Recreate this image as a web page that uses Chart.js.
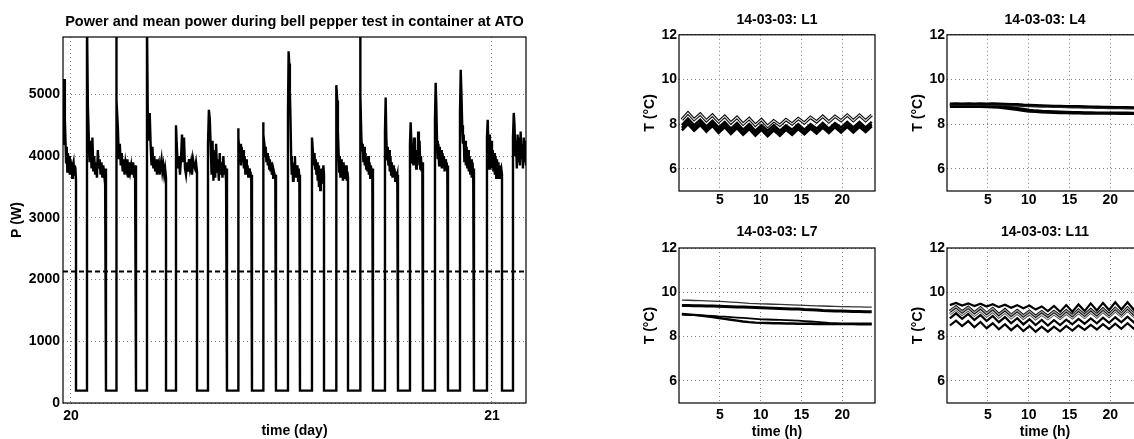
<!DOCTYPE html>
<html>
<head>
<meta charset="utf-8">
<script src="https://cdn.jsdelivr.net/npm/chart.js@4.4.0/dist/chart.umd.min.js"></script>
<style>
  html, body { margin: 0; padding: 0; background: #fff; width: 1134px; height: 439px; overflow: hidden; }
  canvas { position: absolute; }
</style>
</head>
<body>
<canvas id="power" width="540" height="439" style="left:0;top:0"></canvas>
<canvas id="l1" width="247" height="215" style="left:630px;top:0"></canvas>
<canvas id="l4" width="247" height="215" style="left:898px;top:0"></canvas>
<canvas id="l7" width="247" height="229" style="left:630px;top:210px"></canvas>
<canvas id="l11" width="247" height="229" style="left:898px;top:210px"></canvas>
<script>
/* Power chart data */
const DAY_MIN = 19.981;
const DAY_MAX = 21.0808;
const DAY_TICKS = [20, 21];
const POWER_MAX = 5930;
const POWER_TICKS = [0, 1000, 2000, 3000, 4000, 5000];
const MEAN_POWER = 2130;
const OFF_POWER = 200;

// compressor on-periods (day) and the power read during each of them
const ON_START = [19.981, 20.038, 20.1069, 20.1805, 20.2494, 20.3254, 20.3967, 20.4561, 20.5154,
  20.5724, 20.6295, 20.6865, 20.7458, 20.8052, 20.8646, 20.924, 20.9881, 21.0499];
const ON_END = [20.0119, 20.0831, 20.1544, 20.2257, 20.2993, 20.3705, 20.4299, 20.4869, 20.5439,
  20.601, 20.658, 20.7173, 20.7767, 20.8361, 20.8955, 20.9572, 21.0238, 21.0808];
const ON_POWER = [
  [4200, 4650, 5250, 4600, 4250, 3900, 4150, 3750, 4050, 3800, 4000, 3700, 3950, 3850, 3900, 3650, 3850, 3900, 3700, 3850, 3800, 3600],
  [6200, 4800, 4300, 3900, 4250, 3800, 4300, 3750, 4000, 3700, 3900, 3650, 4100, 3800, 3950, 3700, 3900, 3650, 3850, 3700, 3800, 3650],
  [6200, 4900, 4450, 3950, 4200, 3850, 4050, 3750, 3950, 3700, 3900, 3800, 3950, 3650, 3900, 3750, 3850, 3700, 3900, 3650, 3850, 3700],
  [6200, 4500, 4250, 4700, 4200, 3850, 4150, 3800, 4000, 3750, 3950, 3700, 3850, 3900, 3700, 3850, 3950, 3750, 3850, 3700, 3800, 3650],
  [4500, 4100, 3800, 4000, 3700, 3950, 4350, 3900, 4300, 3800, 3700, 3900, 3750, 3950, 3800, 3900, 3700, 3950, 3850, 3800, 3900, 3750],
  [4200, 4750, 4600, 4150, 3700, 4250, 3600, 4100, 3650, 4200, 3750, 3950, 3600, 4050, 3700, 3900, 3650, 4000, 3700, 3850, 3600, 3800],
  [4450, 4300, 4050, 4200, 3850, 4150, 3900, 4100, 3800, 4000, 3700, 3950, 3700, 3850, 3650, 3800, 3650, 3750, 3600, 3700],
  [4550, 4350, 4200, 4000, 4150, 3900, 4050, 3850, 4000, 3800, 3950, 3750, 3900, 3700, 3800, 3650, 3750, 3700, 3650, 3700],
  [4700, 5700, 5500, 5050, 4600, 4000, 3700, 3900, 3600, 3850, 3700, 4000, 3650, 3800, 3700, 3850, 3600, 3800, 3650, 3700],
  [4300, 4150, 4000, 3850, 4050, 3800, 3950, 3700, 3900, 3600, 3850, 3500, 3800, 3450, 3750, 3550, 3800, 3600, 3850, 3700],
  [4700, 5150, 4900, 4400, 4100, 3750, 4000, 3650, 3950, 3700, 3850, 3600, 3900, 3650, 3800, 3700, 3850, 3600, 3750, 3650],
  [6200, 5000, 4300, 4100, 4200, 3900, 4150, 3850, 4050, 3800, 3950, 3750, 4000, 3700, 3900, 3650, 3850, 3700, 3800, 3650],
  [4400, 4950, 4300, 3950, 4150, 3850, 4100, 3750, 4000, 3700, 3900, 3650, 3850, 3700, 3800, 3600, 3750, 3650, 3700, 3600],
  [4200, 4550, 4250, 3900, 4100, 3850, 4300, 3900, 4050, 3800, 4100, 3850, 4400, 3900, 4250, 3800, 4000, 3750, 3900, 3750],
  [4600, 5190, 4800, 4250, 3950, 4200, 3850, 4150, 3900, 4100, 3800, 4050, 3850, 4000, 3750, 3950, 3800, 3900, 3750, 3850],
  [4700, 5400, 5000, 4500, 4200, 4350, 3900, 4250, 3850, 4150, 3800, 4100, 3750, 4000, 3700, 3950, 3650, 3900, 3700, 3800],
  [4300, 4590, 4200, 3800, 4350, 3900, 4250, 3800, 4100, 3750, 4050, 3700, 4000, 3650, 3950, 3700, 3900, 3650, 3850, 3750, 3800, 3700],
  [4300, 4700, 4500, 4000, 4250, 3800, 4350, 3900, 4300, 3850, 4400, 3950, 4200, 3800, 4300, 3900, 4250, 3850]
];

/* Temperature charts data */
const HOURS = [0.35, 1.1, 1.85, 2.6, 3.35, 4.1, 4.85, 5.6, 6.35, 7.1, 7.85, 8.6, 9.35, 10.1, 10.85, 11.6,
  12.35, 13.1, 13.85, 14.6, 15.35, 16.1, 16.85, 17.6, 18.35, 19.1, 19.85, 20.6, 21.35, 22.1, 22.85, 23.6];
const HOUR_TICKS = [5, 10, 15, 20];
const TEMP_TICKS = [6, 8, 10, 12];

const L1_A = [8.2,8.5, 8.2,8.45, 8.15,8.4, 8.1,8.35, 8.05,8.3, 8.0,8.25, 7.95,8.2, 7.9,8.15, 7.95,8.2, 8.0,8.25, 8.05,8.3, 8.1,8.35, 8.1,8.35, 8.15,8.4, 8.15,8.4, 8.15,8.4];
const L1_B = [7.95,8.25, 7.95,8.2, 7.9,8.15, 7.85,8.1, 7.8,8.05, 7.75,8.0, 7.7,7.95, 7.7,7.95, 7.7,7.95, 7.75,8.0, 7.75,8.0, 7.8,8.05, 7.8,8.05, 7.85,8.1, 7.85,8.1, 7.85,8.1];
const L1_C = [7.83,8.13, 7.82,8.08, 7.78,8.03, 7.73,7.98, 7.68,7.93, 7.63,7.88, 7.58,7.83, 7.57,7.82, 7.58,7.84, 7.62,7.88, 7.64,7.89, 7.68,7.93, 7.69,7.94, 7.72,7.97, 7.73,7.98, 7.74,7.99];
const L1_D = [7.72,8.0, 7.7,7.96, 7.66,7.92, 7.6,7.86, 7.56,7.82, 7.52,7.78, 7.48,7.74, 7.46,7.72, 7.48,7.74, 7.52,7.78, 7.54,7.8, 7.58,7.84, 7.6,7.86, 7.62,7.88, 7.62,7.88, 7.64,7.9];

const L4_E = [8.92,8.93,8.92,8.93,8.92,8.93,8.92,8.93,8.92,8.91,8.9,8.89,8.87,8.86,8.85,8.84,8.83,8.82,8.82,8.81,8.8,8.8,8.79,8.78,8.78,8.77,8.77,8.76,8.76,8.76,8.75,8.75];
const L4_F = [8.85,8.86,8.85,8.86,8.85,8.85,8.84,8.84,8.82,8.79,8.75,8.71,8.67,8.63,8.6,8.58,8.57,8.56,8.55,8.54,8.53,8.53,8.52,8.52,8.51,8.51,8.5,8.5,8.5,8.5,8.49,8.49];
const L4_G = [8.78,8.79,8.78,8.79,8.78,8.78,8.77,8.76,8.74,8.71,8.68,8.64,8.6,8.57,8.55,8.53,8.52,8.51,8.5,8.5,8.49,8.49,8.48,8.48,8.48,8.47,8.47,8.47,8.46,8.46,8.46,8.46];
const L4_H = [8.87,8.88,8.87,8.88,8.87,8.87,8.87,8.86,8.86,8.85,8.84,8.83,8.82,8.81,8.8,8.79,8.78,8.77,8.77,8.76,8.75,8.75,8.74,8.74,8.73,8.73,8.72,8.72,8.72,8.71,8.71,8.71];

const L7_I = [9.65,9.64,9.63,9.62,9.61,9.6,9.59,9.58,9.56,9.54,9.52,9.5,9.49,9.48,9.47,9.46,9.45,9.44,9.43,9.42,9.41,9.4,9.39,9.38,9.37,9.36,9.35,9.35,9.34,9.34,9.33,9.33];
const L7_J = [9.4,9.4,9.39,9.39,9.38,9.38,9.37,9.36,9.35,9.34,9.33,9.32,9.31,9.3,9.29,9.28,9.27,9.26,9.25,9.24,9.22,9.21,9.2,9.18,9.17,9.16,9.15,9.14,9.13,9.13,9.12,9.12];
const L7_K = [9.02,9.0,8.98,8.95,8.92,8.88,8.84,8.8,8.76,8.72,8.68,8.65,8.63,8.62,8.61,8.6,8.6,8.59,8.59,8.58,8.58,8.58,8.57,8.57,8.57,8.56,8.56,8.56,8.56,8.55,8.55,8.55];
const L7_L = [8.99,8.98,8.97,8.96,8.95,8.93,8.91,8.9,8.88,8.86,8.84,8.82,8.8,8.78,8.77,8.76,8.75,8.74,8.73,8.72,8.7,8.68,8.66,8.64,8.62,8.61,8.6,8.6,8.6,8.59,8.59,8.59];

const L11_M1 = [9.42,9.52, 9.4,9.5, 9.38,9.48, 9.36,9.46, 9.33,9.44, 9.3,9.42, 9.28,9.4, 9.22,9.36, 9.15,9.38, 9.12,9.42, 9.12,9.45, 9.15,9.5, 9.18,9.52, 9.2,9.55, 9.22,9.55, 9.22,9.55];
const L11_M2 = [9.15,9.35, 9.12,9.33, 9.08,9.3, 9.05,9.27, 9.0,9.22, 8.97,9.18, 8.94,9.15, 8.92,9.13, 8.92,9.14, 8.93,9.17, 8.95,9.2, 8.97,9.22, 8.99,9.25, 9.0,9.28, 9.02,9.3, 9.03,9.32];
const L11_M3 = [9.02,9.24, 9.0,9.2, 8.96,9.17, 8.92,9.13, 8.88,9.1, 8.84,9.06, 8.82,9.03, 8.8,9.0, 8.8,9.02, 8.82,9.05, 8.84,9.08, 8.86,9.1, 8.88,9.13, 8.9,9.16, 8.92,9.18, 8.93,9.2];
const L11_M4 = [8.82,9.05, 8.8,9.02, 8.75,8.98, 8.7,8.93, 8.65,8.88, 8.6,8.83, 8.55,8.78, 8.52,8.75, 8.5,8.74, 8.52,8.76, 8.55,8.8, 8.58,8.82, 8.6,8.85, 8.62,8.87, 8.64,8.9, 8.65,8.9];
const L11_M5 = [8.5,8.72, 8.47,8.7, 8.42,8.66, 8.38,8.6, 8.33,8.56, 8.29,8.52, 8.25,8.48, 8.22,8.45, 8.22,8.45, 8.24,8.48, 8.27,8.5, 8.3,8.53, 8.32,8.56, 8.34,8.58, 8.35,8.6, 8.36,8.6];

Chart.defaults.font.family = "'Liberation Sans', Arial, sans-serif";
Chart.defaults.font.size = 14;
Chart.defaults.font.weight = 'bold';
Chart.defaults.color = '#000';

// matlab style box around the axes
const frame = {
  id: 'frame',
  afterDatasetsDraw(chart) {
    const {ctx, chartArea: a} = chart;
    ctx.save();
    ctx.strokeStyle = '#000';
    ctx.lineWidth = 1.2;
    ctx.strokeRect(a.left, a.top, a.right - a.left, a.bottom - a.top);
    ctx.restore();
  }
};

const fixedTicks = list => scale => { scale.ticks = list.map(v => ({value: v})); };
const plainLabel = v => String(v);
const gridStyle = {drawTicks: false, color: '#808080', lineWidth: 1};
const borderStyle = {display: false, dash: [1, 3]};

/* Power */
const powerPoints = [];
ON_START.forEach((t0, i) => {
  const vals = ON_POWER[i];
  const t1 = ON_END[i];
  if (i > 0) powerPoints.push({x: t0, y: OFF_POWER});
  vals.forEach((v, k) => powerPoints.push({x: t0 + (t1 - t0) * k / (vals.length - 1), y: v}));
  if (i < ON_START.length - 1) powerPoints.push({x: t1, y: OFF_POWER});
});

new Chart(document.getElementById('power'), {
  type: 'line',
  data: {
    datasets: [{
      data: [{x: DAY_MIN, y: MEAN_POWER}, {x: DAY_MAX, y: MEAN_POWER}],
      borderColor: '#000', borderWidth: 2, borderDash: [5, 3], pointRadius: 0
    }, {
      data: powerPoints,
      borderColor: '#000', borderWidth: 2.4, pointRadius: 0, tension: 0
    }]
  },
  options: {
    responsive: false,
    animation: false,
    layout: {padding: {right: 14}},
    plugins: {
      legend: {display: false},
      tooltip: {enabled: false},
      title: {display: true, text: 'Power and mean power during bell pepper test in container at ATO',
        font: {size: 14.5}, fullSize: false, padding: {top: 13, bottom: 6.6}}
    },
    scales: {
      x: {
        type: 'linear', min: DAY_MIN, max: DAY_MAX,
        afterBuildTicks: fixedTicks(DAY_TICKS),
        afterFit: s => { s.height = 36; },
        grid: gridStyle, border: borderStyle,
        ticks: {padding: 5, callback: plainLabel},
        title: {display: true, text: 'time (day)', font: {lineHeight: 1}, padding: {top: 0, bottom: 1}}
      },
      y: {
        min: 0, max: POWER_MAX,
        afterBuildTicks: fixedTicks(POWER_TICKS),
        afterFit: s => { s.width = 63; },
        grid: gridStyle, border: borderStyle,
        ticks: {padding: 3, callback: plainLabel},
        title: {display: true, text: 'P (W)', font: {lineHeight: 1}, padding: {top: 10, bottom: 0}}
      }
    }
  },
  plugins: [frame]
});

/* Temperatures */
function tempChart(id, title, series, bottomRow) {
  new Chart(document.getElementById(id), {
    type: 'line',
    data: {
      datasets: series.map(s => ({
        data: HOURS.map((h, i) => ({x: h, y: s.values[i]})),
        borderColor: s.color, borderWidth: s.width, pointRadius: 0, tension: 0
      }))
    },
    options: {
      responsive: false,
      animation: false,
      layout: {padding: {right: 2}},
      plugins: {
        legend: {display: false},
        tooltip: {enabled: false},
        title: {display: true, text: title, fullSize: false,
          padding: bottomRow ? {top: 14, bottom: 7.2} : {top: 12, bottom: 6}}
      },
      scales: {
        x: {
          type: 'linear', min: 0, max: 24,
          afterBuildTicks: fixedTicks(HOUR_TICKS),
          afterFit: s => { s.height = bottomRow ? 36 : 24; },
          grid: gridStyle, border: borderStyle,
          ticks: {padding: bottomRow ? 4 : 1, callback: plainLabel},
          title: {display: bottomRow, text: 'time (h)', font: {lineHeight: 1}, padding: 0}
        },
        y: {
          min: 5, max: 12,
          afterBuildTicks: fixedTicks(TEMP_TICKS),
          afterFit: s => { s.width = 49; },
          grid: gridStyle, border: borderStyle,
          ticks: {padding: 2, callback: plainLabel},
          title: {display: true, text: 'T (°C)', font: {lineHeight: 1}, padding: {top: 13, bottom: 0}}
        }
      }
    },
    plugins: [frame]
  });
}

tempChart('l1', '14-03-03: L1', [
  {values: L1_A, color: '#d8d8d8', width: 1.2},
  {values: L1_A, color: '#000', width: 3.2},
  {values: L1_B, color: '#000', width: 2.4},
  {values: L1_C, color: '#000', width: 2.4},
  {values: L1_D, color: '#000', width: 2.6}
], false);

tempChart('l4', '14-03-03: L4', [
  {values: L4_E, color: '#000', width: 2.2},
  {values: L4_H, color: '#222', width: 2.4},
  {values: L4_F, color: '#000', width: 2.6},
  {values: L4_G, color: '#000', width: 2.6}
], false);

tempChart('l7', '14-03-03: L7', [
  {values: L7_I, color: '#333', width: 1.3},
  {values: L7_J, color: '#000', width: 3},
  {values: L7_K, color: '#000', width: 2.4},
  {values: L7_L, color: '#000', width: 1.8}
], true);

tempChart('l11', '14-03-03: L11', [
  {values: L11_M1, color: '#000', width: 2.2},
  {values: L11_M2, color: '#9a9a9a', width: 1.4},
  {values: L11_M2, color: '#000', width: 3},
  {values: L11_M3, color: '#c8c8c8', width: 1.4},
  {values: L11_M3, color: '#444', width: 2.8},
  {values: L11_M4, color: '#000', width: 2.2},
  {values: L11_M5, color: '#000', width: 2.2}
], true);
</script>
</body>
</html>
